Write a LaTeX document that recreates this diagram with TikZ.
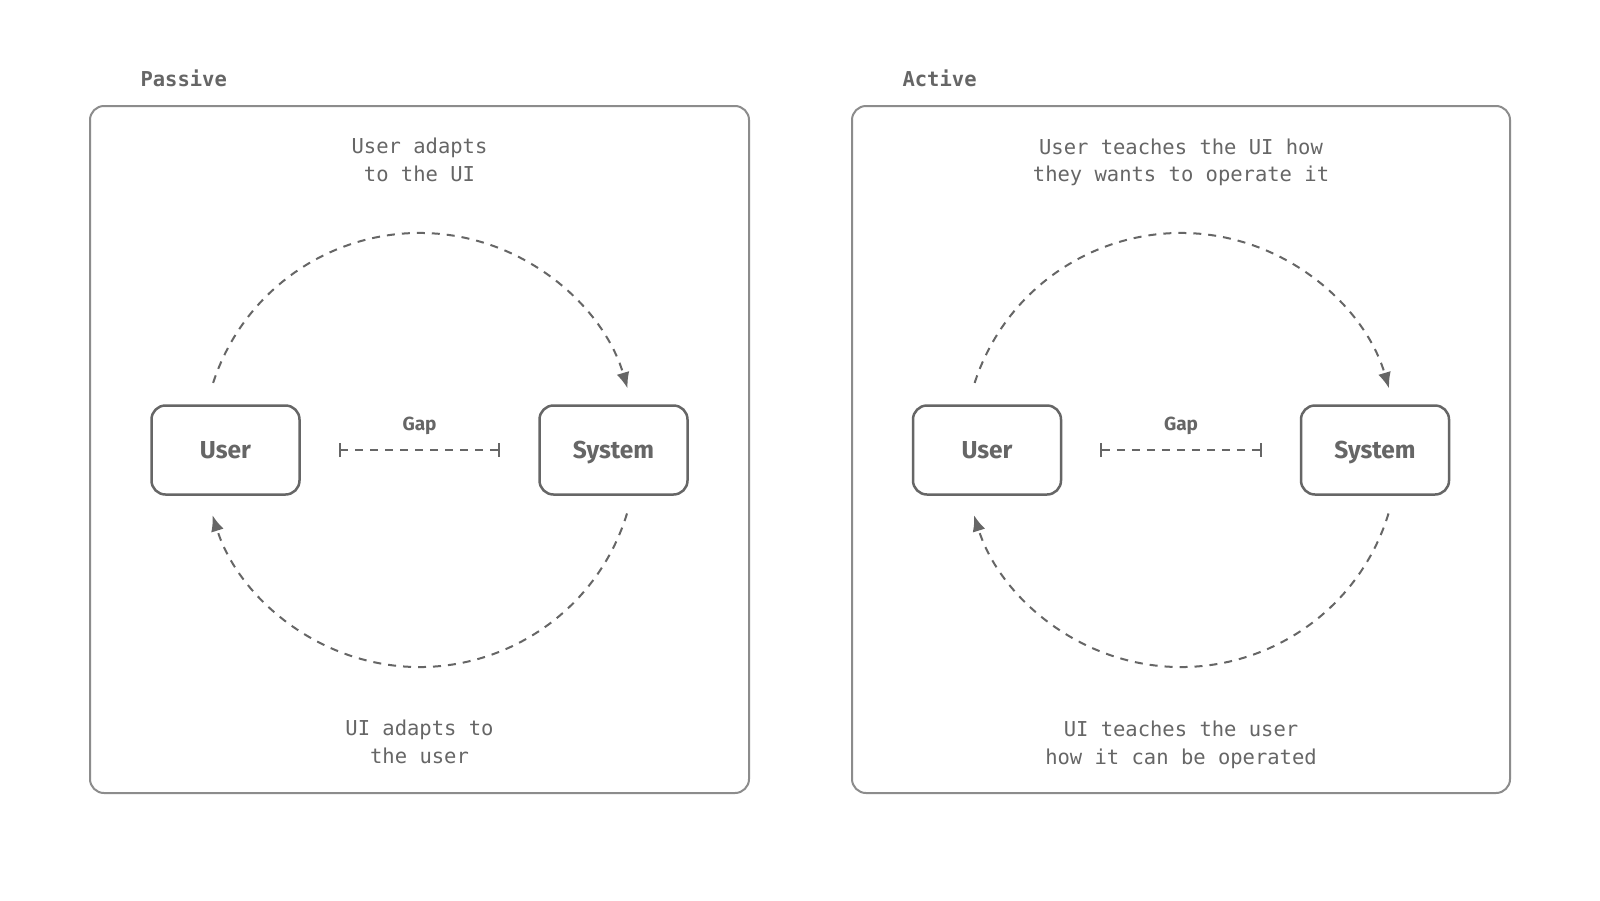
\documentclass[tikz,border=0pt]{standalone}
\usepackage{fontspec}
\setmonofont{DejaVu Sans Mono}
\newfontfamily\labelfont{Fira Sans}
\usetikzlibrary{arrows.meta, positioning, calc}
\definecolor{inkgray}{RGB}{102,102,102}
\definecolor{framegray}{RGB}{140,140,140}

\tikzset{
  panel/.style={draw=framegray, line width=2pt, rounded corners=14pt},
  agent/.style={draw=inkgray, line width=2.5pt, rounded corners=14pt, minimum width=148pt, minimum height=89pt, text height=17pt, text depth=0pt, text=inkgray, font=\labelfont\bfseries\fontsize{24.5}{28}\selectfont},
  note/.style={align=center, text=inkgray, font=\ttfamily\fontsize{20.5}{27.5}\selectfont},
  paneltitle/.style={anchor=west, text=inkgray, font=\ttfamily\bfseries\fontsize{20.5}{24}\selectfont},
  gaplabel/.style={text=inkgray, font=\labelfont\bfseries\fontsize{19}{21}\selectfont},
  cycleline/.style={draw=inkgray, line width=2pt, dash pattern=on 8pt off 7pt, -{Latex[length=16pt,width=13pt]}},
  gapline/.style={draw=inkgray, line width=2pt, dash pattern=on 8pt off 7pt, {Bar[width=14pt]}-{Bar[width=14pt]}},
}

\begin{document}
\begin{tikzpicture}[x=1pt, y=1pt]
\useasboundingbox[fill=white] (0,0) rectangle (1600,-900);

% passive
\node[paneltitle] (ptitle) at (137,-78) {Passive};
\draw[panel] (90,-106) rectangle (749,-793);
\node[note] (ptop) at (419.5,-160) {User adapts\\to the UI};
\node[note] (pbot) at (419.5,-742) {UI adapts to\\the user};
\node[agent] (puser) at (225.5,-450) {User};
\node[agent] (psys) at (613.5,-450) {System};
\node[gaplabel] (pgap) at (419.5,-426) {Gap};
\coordinate (pc) at (419.5,-450);
\draw[gapline] ([xshift=38pt]puser.east) -- ([xshift=-38pt]psys.west);
\draw[cycleline] ([shift={(162:217)}]pc) arc[start angle=162, end angle=16.5, radius=217];
\draw[cycleline] ([shift={(-17:217)}]pc) arc[start angle=-17, end angle=-162.5, radius=217];

% active
\node[paneltitle] (atitle) at (899,-78) {Active};
\draw[panel] (852,-106) rectangle (1510,-793);
\node[note] (atop) at (1181,-162.5) {User teaches the UI how\\they wants to operate it};
\node[note] (abot) at (1181,-745) {UI teaches the user\\how it can be operated};
\node[agent] (auser) at (987,-450) {User};
\node[agent] (asys) at (1375,-450) {System};
\node[gaplabel] (agap) at (1181,-426) {Gap};
\coordinate (ac) at (1181,-450);
\draw[gapline] ([xshift=38pt]auser.east) -- ([xshift=-38pt]asys.west);
\draw[cycleline] ([shift={(162:217)}]ac) arc[start angle=162, end angle=16.5, radius=217];
\draw[cycleline] ([shift={(-17:217)}]ac) arc[start angle=-17, end angle=-162.5, radius=217];
\end{tikzpicture}
\end{document}
